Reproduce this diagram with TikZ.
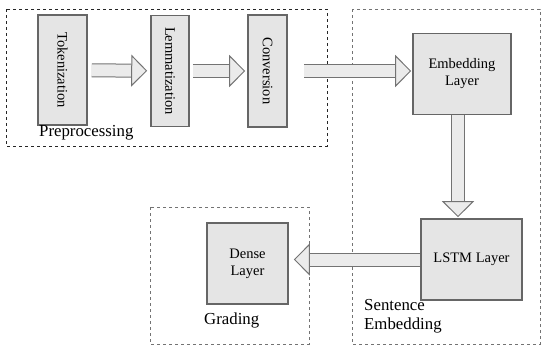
\documentclass[tikz,border=0pt]{standalone}
\usepackage{fontspec}
\setmainfont{Liberation Serif}
\usetikzlibrary{arrows.meta}

\tikzset{
  layer/.style={draw=black!60, line width=1.6pt, fill=black!10, inner sep=0pt,
    align=center, font=\fontsize{14.5}{17}\selectfont},
  stage/.style={draw=black!55, dashed, line width=0.6pt},
  flow/.style={draw=black!55, line width=1pt, double=black!8, double distance=12pt,
    -{Triangle[open, length=16pt, width=32pt, fill=black!8]}},
  caption/.style={inner sep=0pt, align=left, font=\fontsize{16.8}{19}\selectfont}
}

\begin{document}
\begin{tikzpicture}[x=1pt,y=-1pt]
    \useasboundingbox (0,0) rectangle (543,349);

    % dashed stage frames
    \draw[stage, draw=black!85, line width=1pt] (6,9) rectangle (327,146);
    \draw[stage] (352,9) rectangle (540,344);
    \draw[stage] (150,207) rectangle (309,344);

    % preprocessing steps
    \node[layer, minimum width=49, minimum height=110] (tok) at (62.5,70) {};
    \node[rotate=-90, font=\fontsize{14.5}{17}\selectfont] at (tok) {Tokenization};
    \node[layer, minimum width=38, minimum height=111] (lem) at (170,71) {};
    \node[rotate=-90, font=\fontsize{14.5}{17}\selectfont] at (lem) {Lemmatization};
    \node[layer, minimum width=39, minimum height=112] (conv) at (267.5,71) {};
    \node[rotate=-90, font=\fontsize{14.5}{17}\selectfont] at (conv) {Conversion};

    % network layers
    \node[layer, minimum width=98, minimum height=81] (emb) at (462,74) {Embedding\\Layer};
    \node[layer, minimum width=101, minimum height=81] (lstm) at (471.5,259.5) {LSTM Layer};
    \node[layer, minimum width=81, minimum height=81] (dense) at (247.5,263.5) {Dense\\Layer};

    % stage names
    \node[caption, anchor=west] (pre) at (39,133) {Preprocessing};
    \node[caption, anchor=west] (grad) at (204,320) {Grading};
    \node[caption, anchor=north west] (sent) at (364,299) {Sentence\\Embedding};

    % block arrows
    \draw[flow, shorten <=4pt, shorten >=3pt] (tok) -- (lem);
    \draw[flow, shorten <=3pt, shorten >=2pt] (lem) -- (conv);
    \draw[flow, shorten <=16pt, shorten >=1pt] (conv.east) -- (conv.east -| emb.west);
    \draw[flow, shorten >=1pt] (emb.south -| 458,0) -- (lstm.north -| 458,0);
    \draw[flow, shorten >=5pt] (lstm.west) -- (lstm.west -| dense.east);
\end{tikzpicture}
\end{document}
